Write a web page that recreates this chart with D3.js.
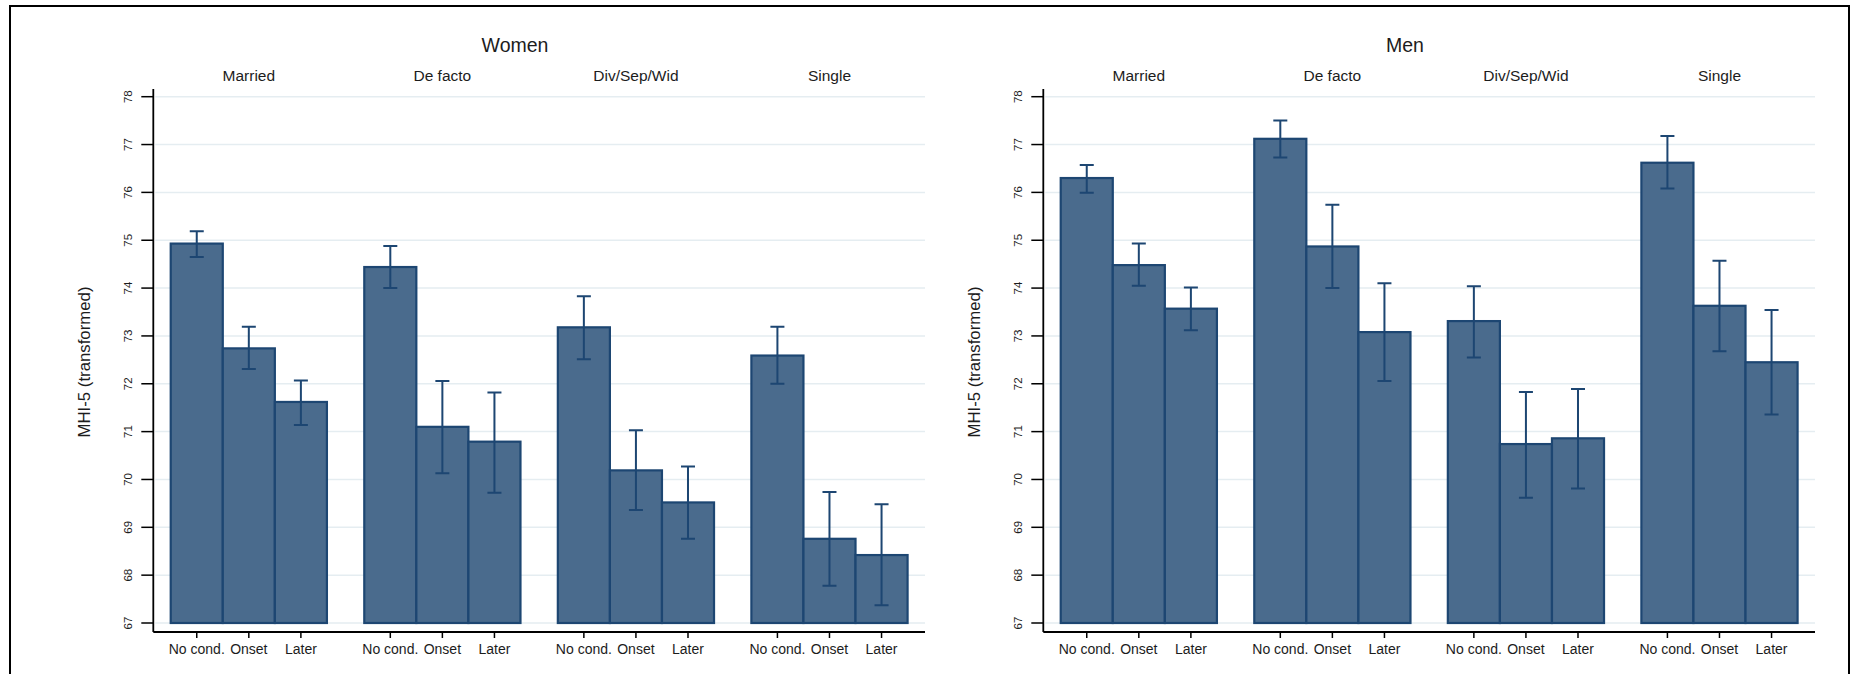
<!DOCTYPE html>
<html>
<head>
<meta charset="utf-8">
<script src="https://cdn.jsdelivr.net/npm/d3@7"></script>
<style>
  body { margin: 0; background: #fff; }
  text { font-family: "Liberation Sans", Arial, sans-serif; fill: #1c1c1c; }
</style>
</head>
<body>
<div id="chart"></div>
<script>
const panels = ['Women', 'Men'];
const statuses = ['Married', 'De facto', 'Div/Sep/Wid', 'Single'];
const conditions = ['No cond.', 'Onset', 'Later'];
const yTicks = [67, 68, 69, 70, 71, 72, 73, 74, 75, 76, 77, 78];
const yTitle = 'MHI-5 (transformed)';

// rows follow statuses, columns follow conditions
const womenMeans = [[74.93, 72.74, 71.62], [74.44, 71.10, 70.79], [73.18, 70.19, 69.52], [72.59, 68.76, 68.42]];
const womenLow = [[74.65, 72.31, 71.14], [74.00, 70.13, 69.72], [72.51, 69.36, 68.76], [72.00, 67.78, 67.37]];
const womenHigh = [[75.19, 73.19, 72.07], [74.88, 72.06, 71.82], [73.83, 71.03, 70.27], [73.19, 69.74, 69.48]];

const menMeans = [[76.30, 74.48, 73.57], [77.12, 74.87, 73.08], [73.31, 70.74, 70.86], [76.62, 73.63, 72.45]];
const menLow = [[75.99, 74.05, 73.12], [76.73, 74.00, 72.06], [72.55, 69.62, 69.81], [76.08, 72.68, 71.36]];
const menHigh = [[76.57, 74.93, 74.01], [77.50, 75.74, 74.10], [74.04, 71.83, 71.89], [77.18, 74.57, 73.54]];

const panelData = [
  { means: womenMeans, low: womenLow, high: womenHigh },
  { means: menMeans, low: menLow, high: menHigh }
];

const width = 1850;
const height = 674;
const panelOffset = 890;
const axisX = 153.3;
const plotRight = 925;
const axisTop = 89;
const axisBottom = 632;

const fill = '#4a6b8d';
const edge = '#1d4672';

const svg = d3.select('#chart')
  .append('svg')
  .attr('width', width)
  .attr('height', height);

// outer frame (left, top, right)
svg.append('path')
  .attr('d', 'M10,674 L10,6 L1849,6 L1849,674')
  .attr('fill', 'none')
  .attr('stroke', '#000')
  .attr('stroke-width', 2);

const y = d3.scaleLinear().domain([67, 78]).range([623, 96.7]);

panels.forEach((name, p) => {
  const g = svg.append('g').attr('transform', 'translate(' + (p * panelOffset) + ',0)');
  const d = panelData[p];

  const x0 = d3.scaleBand()
    .domain(statuses)
    .range([axisX, plotRight])
    .paddingInner(0.193)
    .paddingOuter(0.09);

  const x1 = d3.scaleBand()
    .domain(conditions)
    .range([0, x0.bandwidth()])
    .padding(0);

  // gridlines
  g.selectAll('.grid')
    .data(yTicks)
    .enter()
    .append('line')
    .attr('x1', axisX + 2)
    .attr('x2', plotRight)
    .attr('y1', v => y(v))
    .attr('y2', v => y(v))
    .attr('stroke', '#e5edf1')
    .attr('stroke-width', 1.5);

  // bars
  statuses.forEach((s, i) => {
    const grp = g.append('g').attr('transform', 'translate(' + x0(s) + ',0)');

    grp.selectAll('rect')
      .data(conditions)
      .enter()
      .append('rect')
      .attr('x', c => x1(c))
      .attr('width', x1.bandwidth())
      .attr('y', (c, j) => y(d.means[i][j]))
      .attr('height', (c, j) => y(67) - y(d.means[i][j]))
      .attr('fill', fill)
      .attr('stroke', edge)
      .attr('stroke-width', 2.2);

    const cx = c => x1(c) + x1.bandwidth() / 2;

    grp.selectAll('.ci')
      .data(conditions)
      .enter()
      .append('path')
      .attr('d', (c, j) => {
        const hi = y(d.high[i][j]);
        const lo = y(d.low[i][j]);
        const m = cx(c);
        return 'M' + m + ',' + hi + 'L' + m + ',' + lo +
          'M' + (m - 7) + ',' + hi + 'L' + (m + 7) + ',' + hi +
          'M' + (m - 7) + ',' + lo + 'L' + (m + 7) + ',' + lo;
      })
      .attr('fill', 'none')
      .attr('stroke', edge)
      .attr('stroke-width', 2);

    // x ticks and labels
    grp.selectAll('.xt')
      .data(conditions)
      .enter()
      .append('line')
      .attr('x1', cx)
      .attr('x2', cx)
      .attr('y1', axisBottom)
      .attr('y2', axisBottom + 6)
      .attr('stroke', '#000')
      .attr('stroke-width', 1.5);

    grp.selectAll('.xl')
      .data(conditions)
      .enter()
      .append('text')
      .attr('x', cx)
      .attr('y', 654)
      .attr('text-anchor', 'middle')
      .style('font-size', '14px')
      .text(c => c);

    // status label
    g.append('text')
      .attr('x', x0(s) + x0.bandwidth() / 2)
      .attr('y', 81)
      .attr('text-anchor', 'middle')
      .style('font-size', '15.5px')
      .text(s);
  });

  // axes
  g.append('line')
    .attr('x1', axisX).attr('x2', axisX)
    .attr('y1', axisTop).attr('y2', axisBottom)
    .attr('stroke', '#000').attr('stroke-width', 1.8);

  g.append('line')
    .attr('x1', axisX).attr('x2', plotRight)
    .attr('y1', axisBottom).attr('y2', axisBottom)
    .attr('stroke', '#000').attr('stroke-width', 1.8);

  g.selectAll('.yt')
    .data(yTicks)
    .enter()
    .append('line')
    .attr('x1', axisX - 12)
    .attr('x2', axisX)
    .attr('y1', v => y(v))
    .attr('y2', v => y(v))
    .attr('stroke', '#000')
    .attr('stroke-width', 1.5);

  g.selectAll('.yl')
    .data(yTicks)
    .enter()
    .append('text')
    .attr('transform', v => 'translate(131.5,' + y(v) + ') rotate(-90)')
    .attr('text-anchor', 'middle')
    .style('font-size', '11.5px')
    .text(v => v);

  g.append('text')
    .attr('transform', 'translate(90,362) rotate(-90)')
    .attr('text-anchor', 'middle')
    .style('font-size', '16.8px')
    .text(yTitle);

  g.append('text')
    .attr('x', 515)
    .attr('y', 52)
    .attr('text-anchor', 'middle')
    .style('font-size', '19.5px')
    .text(name);
});
</script>
</body>
</html>
